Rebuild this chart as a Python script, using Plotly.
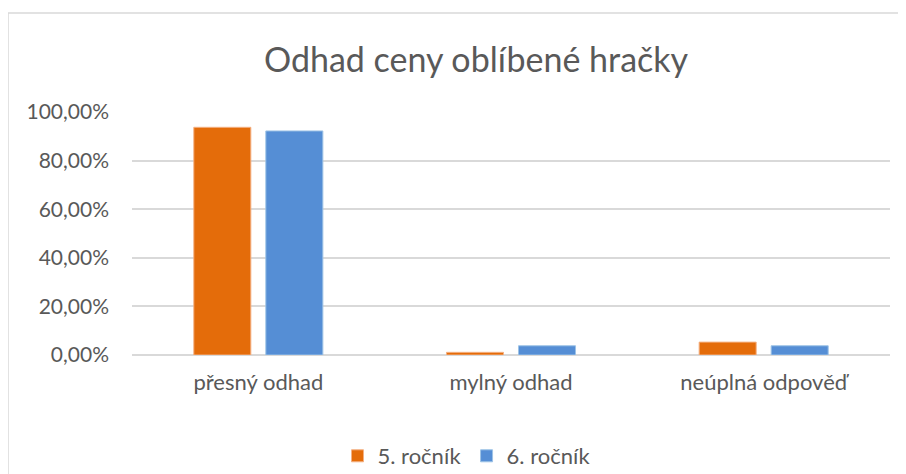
import plotly.graph_objects as go

categories = ["přesný odhad", "mylný odhad", "neúplná odpověď"]
series_names = ["5. ročník", "6. ročník"]
values_5 = [0.937, 0.011, 0.053]
values_6 = [0.922, 0.038, 0.038]
colors = ["#E46C0A", "#558ED5"]
tick_vals = [0, 0.2, 0.4, 0.6, 0.8, 1.0]

font_family = "Lato, 'Open Sans', sans-serif"
grey = "#595959"

W, H = 898, 466
L, R, T, B = 124, 16, 104, 119
PW, PH = W - L - R, H - T - B

fig = go.Figure()
for name, vals, col, lc in zip(series_names, [values_5, values_6], colors, ["#F4B183", "#9DC3E6"]):
    fig.add_trace(go.Bar(
        x=categories, y=vals, name=name,
        marker=dict(color=col, line=dict(color=lc, width=1)),
    ))

fig.update_layout(
    width=W, height=H,
    margin=dict(l=L, r=R, t=T, b=B, autoexpand=False),
    paper_bgcolor="white", plot_bgcolor="white",
    separators=",.",
    barmode="group", bargap=0.43, bargroupgap=0.208,
    title=dict(text="Odhad ceny oblíbené hračky", x=468 / W, xanchor="center",
               y=1 - 52 / H, yanchor="middle",
               font=dict(family=font_family, size=34, color=grey)),
    font=dict(family=font_family, color=grey, size=21),
    showlegend=True,
    legend=dict(orientation="h", x=(459 - L) / PW, xanchor="center",
                y=(347 - 448) / PH, yanchor="middle",
                font=dict(size=22, color=grey), traceorder="normal",
                itemwidth=30),
    yaxis=dict(range=[0, 1], tickvals=tick_vals, tickformat=".2%",
               showgrid=True, gridcolor="#D9D9D9", gridwidth=1.5,
               zeroline=True, zerolinecolor="#D9D9D9", zerolinewidth=1.5,
               showline=False, ticks="", ticklabelstandoff=22,
               tickfont=dict(size=21, color=grey)),
    xaxis=dict(showgrid=False, showline=False, ticks="", ticklabelstandoff=12,
               tickfont=dict(size=22, color=grey)),
    shapes=[dict(type="rect", xref="paper", yref="paper",
                 x0=(0 - L) / PW, x1=(W + 10 - L) / PW,
                 y0=(347 - (H + 10)) / PH, y1=1 + (T - 5) / PH,
                 line=dict(color="#D9D9D9", width=1.5), fillcolor="rgba(0,0,0,0)",
                 layer="below")],
)

fig.write_html("out.html")
